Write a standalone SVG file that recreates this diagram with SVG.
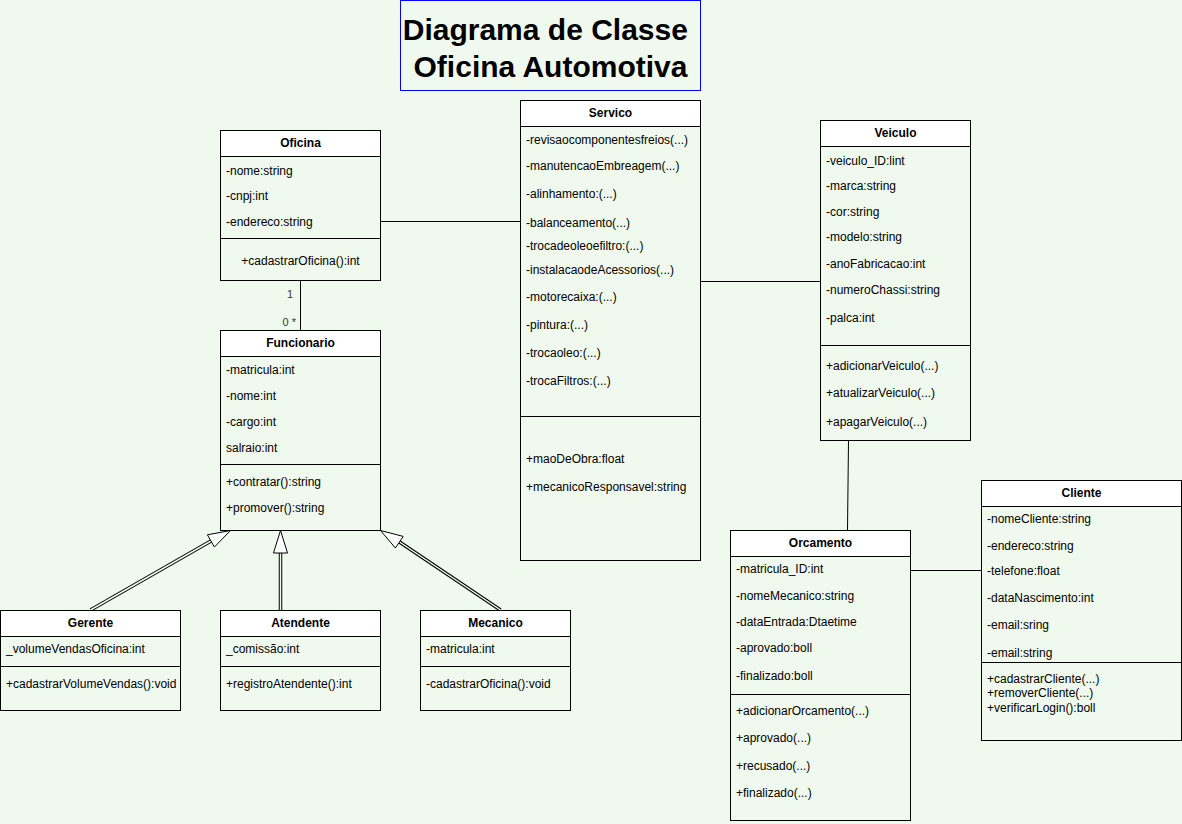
<svg xmlns="http://www.w3.org/2000/svg" width="1182" height="824" viewBox="0 0 1182 824">
<style>
.bg{fill:#F0F9EE}
.box{fill:#F0F9EE;stroke:#000;stroke-width:1}
.hdr{fill:#FFFFFF;stroke:#000;stroke-width:1}
.sep{stroke:#000;stroke-width:1;fill:none}
.t{font-family:"Liberation Sans",Arial,Helvetica,sans-serif;font-size:12px;fill:#000}
.h{font-family:"Liberation Sans",Arial,Helvetica,sans-serif;font-size:12px;font-weight:bold;fill:#000;text-anchor:middle}
.c{text-anchor:middle}
.ln{stroke:#000;stroke-width:1;fill:none}
.dbo{stroke:#000;stroke-width:3.5;fill:none}
.dbi{stroke:#F0F9EE;stroke-width:1.5;fill:none}
.tri{fill:#FFFFFF;stroke:#000;stroke-width:1}
.lbl{font-family:"Liberation Sans",Arial,Helvetica,sans-serif;font-size:11px;fill:#333}
.title{font-family:"Liberation Sans",Arial,Helvetica,sans-serif;font-size:30px;font-weight:bold;fill:#000;text-anchor:middle}
</style>
<rect class="bg" x="0" y="0" width="1182" height="824"/>

<g id="title">
<rect x="400.5" y="0.5" width="300" height="90" fill="none" stroke="#0000FF" stroke-width="1"/>
<text class="title" x="549.5" y="40" xml:space="preserve">Diagrama de Classe </text>
<text class="title" x="550.5" y="77">Oficina Automotiva</text>
</g>

<g id="connectors">
<path class="ln" d="M380.5 221.5 H520.5"/>
<path class="ln" d="M300.5 280.5 V330.5"/>
<path class="ln" d="M700.5 281.5 H820.5"/>
<path class="ln" d="M848.5 441 L847.5 530.5"/>
<path class="ln" d="M910.5 570.5 H981.5"/>
<text class="lbl" x="287" y="298">1</text>
<text class="lbl" x="282.5" y="326">0 *</text>
<path class="dbo" d="M90.5 610 L211 541"/>
<path class="dbi" d="M90.5 610 L211 541"/>
<polygon class="tri" points="230.5,530.5 207.4,534.8 214.4,547"/>
<path class="dbo" d="M280.5 610 V553"/>
<path class="dbi" d="M280.5 610 V553"/>
<polygon class="tri" points="280.5,530.5 273.5,553 287.5,553"/>
<path class="dbo" d="M500.5 610 L399.5 542"/>
<path class="dbi" d="M500.5 610 L399.5 542"/>
<polygon class="tri" points="380.5,530.5 403.2,536.4 395.4,548"/>
</g>

<g id="Oficina">
<rect class="box" x="220.5" y="130.5" width="160" height="150"/>
<rect class="hdr" x="220.5" y="130.5" width="160" height="26"/>
<text class="h" x="300.5" y="147">Oficina</text>
<text class="t" x="226" y="175">-nome:string</text>
<text class="t" x="226" y="200">-cnpj:int</text>
<text class="t" x="226" y="226">-endereco:string</text>
<path class="sep" d="M220.5 238.5 H380.5"/>
<text class="t c" x="300.5" y="265">+cadastrarOficina():int</text>
</g>

<g id="Funcionario">
<rect class="box" x="220.5" y="330.5" width="160" height="200"/>
<rect class="hdr" x="220.5" y="330.5" width="160" height="26"/>
<text class="h" x="300.5" y="347">Funcionario</text>
<text class="t" x="226" y="374">-matricula:int</text>
<text class="t" x="226" y="400">-nome:int</text>
<text class="t" x="226" y="426">-cargo:int</text>
<text class="t" x="226" y="452">salraio:int</text>
<path class="sep" d="M220.5 464.5 H380.5"/>
<text class="t" x="226" y="486">+contratar():string</text>
<text class="t" x="226" y="512">+promover():string</text>
</g>

<g id="Gerente">
<rect class="box" x="0.5" y="610.5" width="180" height="100"/>
<rect class="hdr" x="0.5" y="610.5" width="180" height="26"/>
<text class="h" x="90.5" y="627">Gerente</text>
<text class="t" x="6" y="653">_volumeVendasOficina:int</text>
<path class="sep" d="M0.5 666.5 H180.5"/>
<text class="t" x="6" y="688">+cadastrarVolumeVendas():void</text>
</g>

<g id="Atendente">
<rect class="box" x="220.5" y="610.5" width="160" height="100"/>
<rect class="hdr" x="220.5" y="610.5" width="160" height="26"/>
<text class="h" x="300.5" y="627">Atendente</text>
<text class="t" x="226" y="653">_comissão:int</text>
<path class="sep" d="M220.5 666.5 H380.5"/>
<text class="t" x="226" y="688">+registroAtendente():int</text>
</g>

<g id="Mecanico">
<rect class="box" x="420.5" y="610.5" width="150" height="100"/>
<rect class="hdr" x="420.5" y="610.5" width="150" height="26"/>
<text class="h" x="495.5" y="627">Mecanico</text>
<text class="t" x="426" y="653">-matricula:int</text>
<path class="sep" d="M420.5 666.5 H570.5"/>
<text class="t" x="426" y="688">-cadastrarOficina():void</text>
</g>

<g id="Servico">
<rect class="box" x="520.5" y="100.5" width="180" height="460"/>
<rect class="hdr" x="520.5" y="100.5" width="180" height="26"/>
<text class="h" x="610.5" y="117">Servico</text>
<text class="t" x="526" y="144">-revisaocomponentesfreios(...)</text>
<text class="t" x="526" y="170">-manutencaoEmbreagem(...)</text>
<text class="t" x="526" y="198">-alinhamento:(...)</text>
<text class="t" x="526" y="227">-balanceamento(...)</text>
<text class="t" x="526" y="250">-trocadeoleoefiltro:(...)</text>
<text class="t" x="526" y="274">-instalacaodeAcessorios(...)</text>
<text class="t" x="526" y="301">-motorecaixa:(...)</text>
<text class="t" x="526" y="329">-pintura:(...)</text>
<text class="t" x="526" y="357">-trocaoleo:(...)</text>
<text class="t" x="526" y="385">-trocaFiltros:(...)</text>
<path class="sep" d="M520.5 416.5 H700.5"/>
<text class="t" x="526" y="463">+maoDeObra:float</text>
<text class="t" x="526" y="491">+mecanicoResponsavel:string</text>
</g>

<g id="Veiculo">
<rect class="box" x="820.5" y="120.5" width="150" height="320"/>
<rect class="hdr" x="820.5" y="120.5" width="150" height="26"/>
<text class="h" x="895.5" y="137">Veiculo</text>
<text class="t" x="826" y="165">-veiculo_ID:lint</text>
<text class="t" x="826" y="190">-marca:string</text>
<text class="t" x="826" y="216">-cor:string</text>
<text class="t" x="826" y="241">-modelo:string</text>
<text class="t" x="826" y="268">-anoFabricacao:int</text>
<text class="t" x="826" y="294">-numeroChassi:string</text>
<text class="t" x="826" y="322">-palca:int</text>
<path class="sep" d="M820.5 345.5 H970.5"/>
<text class="t" x="826" y="370">+adicionarVeiculo(...)</text>
<text class="t" x="826" y="397">+atualizarVeiculo(...)</text>
<text class="t" x="826" y="426">+apagarVeiculo(...)</text>
</g>

<g id="Orcamento">
<rect class="box" x="730.5" y="530.5" width="180" height="290"/>
<rect class="hdr" x="730.5" y="530.5" width="180" height="26"/>
<text class="h" x="820.5" y="547">Orcamento</text>
<text class="t" x="736" y="573">-matricula_ID:int</text>
<text class="t" x="736" y="600">-nomeMecanico:string</text>
<text class="t" x="736" y="626">-dataEntrada:Dtaetime</text>
<text class="t" x="736" y="652">-aprovado:boll</text>
<text class="t" x="736" y="680">-finalizado:boll</text>
<path class="sep" d="M730.5 694.5 H910.5"/>
<text class="t" x="736" y="715">+adicionarOrcamento(...)</text>
<text class="t" x="736" y="742">+aprovado(...)</text>
<text class="t" x="736" y="770">+recusado(...)</text>
<text class="t" x="736" y="797">+finalizado(...)</text>
</g>

<g id="Cliente">
<rect class="box" x="981.5" y="480.5" width="200" height="260"/>
<rect class="hdr" x="981.5" y="480.5" width="200" height="26"/>
<text class="h" x="1081.5" y="497">Cliente</text>
<text class="t" x="987" y="523">-nomeCliente:string</text>
<text class="t" x="987" y="550">-endereco:string</text>
<text class="t" x="987" y="575">-telefone:float</text>
<text class="t" x="987" y="602">-dataNascimento:int</text>
<text class="t" x="987" y="629">-email:sring</text>
<text class="t" x="987" y="657">-email:string</text>
<path class="sep" d="M981.5 662.5 H1181.5"/>
<text class="t" x="987" y="683">+cadastrarCliente(...)</text>
<text class="t" x="987" y="697">+removerCliente(...)</text>
<text class="t" x="987" y="712">+verificarLogin():boll</text>
</g>
</svg>
